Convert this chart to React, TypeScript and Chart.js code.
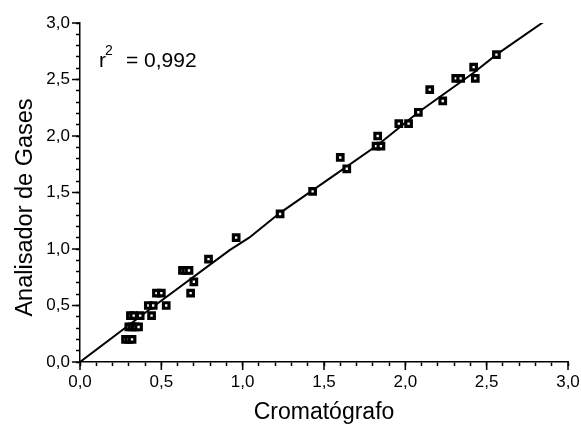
import React, { useEffect, useRef } from 'react';
import { Chart, registerables } from 'chart.js';

Chart.register(...registerables);

// Measured points (Cromatógrafo vs Analisador de Gases)
const POINT_X = [
  0.28, 0.30, 0.32,
  0.30, 0.32, 0.34, 0.36,
  0.31, 0.33, 0.37, 0.44,
  0.42, 0.45, 0.53,
  0.47, 0.50,
  0.63, 0.65, 0.67,
  0.70, 0.68, 0.79, 0.96,
  1.23, 1.43, 1.60, 1.64,
  1.83, 1.82, 1.85, 1.96, 2.02, 2.08,
  2.15, 2.23, 2.31, 2.34, 2.42, 2.43, 2.56,
];
const POINT_Y = [
  0.20, 0.20, 0.20,
  0.31, 0.31, 0.31, 0.31,
  0.41, 0.41, 0.41, 0.41,
  0.50, 0.50, 0.50,
  0.61, 0.61,
  0.81, 0.81, 0.81,
  0.71, 0.61, 0.91, 1.10,
  1.31, 1.51, 1.81, 1.71,
  2.00, 1.91, 1.91, 2.11, 2.11, 2.21,
  2.41, 2.31, 2.51, 2.51, 2.61, 2.51, 2.72,
];

// Fitted curve
const FIT_X = [0, 0.46, 0.92, 1.04, 1.23, 1.54, 1.83, 2.08, 2.42, 2.56, 2.86];
const FIT_Y = [0, 0.50, 0.99, 1.10, 1.32, 1.63, 1.92, 2.21, 2.56, 2.72, 3.02];

const AXIS_MIN = 0;
const AXIS_MAX = 3;
const MINOR_STEP = 0.1;
const MAJOR_TICKS = [0, 0.5, 1.0, 1.5, 2.0, 2.5, 3.0];
const X_TITLE = 'Cromatógrafo';
const Y_TITLE = 'Analisador de Gases';
const R2_VALUE = '0,992';

const FONT = '"Liberation Sans", Arial, sans-serif';

const fmt = (v: number | string) => {
  const n = Number(v);
  return Math.abs(n * 2 - Math.round(n * 2)) < 1e-6 ? n.toFixed(1).replace('.', ',') : '';
};

const decorPlugin = {
  id: 'decor',
  afterDraw(chart: any) {
    const { ctx, chartArea, scales } = chart;
    const xs = scales.x;
    const ys = scales.y;
    ctx.save();
    ctx.strokeStyle = '#000';
    ctx.lineWidth = 1.5;
    ctx.beginPath();
    for (const v of MAJOR_TICKS) {
      const px = xs.getPixelForValue(v);
      ctx.moveTo(px, chartArea.bottom);
      ctx.lineTo(px, chartArea.bottom + 8);
      const py = ys.getPixelForValue(v);
      ctx.moveTo(chartArea.left, py);
      ctx.lineTo(chartArea.left - 8, py);
    }
    ctx.stroke();

    ctx.fillStyle = '#000';
    ctx.font = `23px ${FONT}`;
    ctx.textAlign = 'center';
    ctx.textBaseline = 'alphabetic';
    ctx.fillText(X_TITLE, (chartArea.left + chartArea.right) / 2, chartArea.bottom + 57);

    ctx.save();
    ctx.font = `23.5px ${FONT}`;
    ctx.translate(chartArea.left - 48, (chartArea.top + chartArea.bottom) / 2 + 15);
    ctx.rotate(-Math.PI / 2);
    ctx.textBaseline = 'alphabetic';
    ctx.fillText(Y_TITLE, 0, 0);
    ctx.restore();

    // r² annotation
    ctx.textAlign = 'left';
    ctx.textBaseline = 'alphabetic';
    const bx = chartArea.left + 19;
    const by = chartArea.top + 44;
    ctx.font = `21px ${FONT}`;
    ctx.fillText('r', bx, by);
    ctx.font = `14px ${FONT}`;
    ctx.fillText('2', bx + 6, by - 12);
    ctx.font = `21px ${FONT}`;
    ctx.fillText('= ' + R2_VALUE, bx + 27, by);
    ctx.restore();
  },
};

export default function App() {
  const ref = useRef<HTMLCanvasElement>(null);

  useEffect(() => {
    if (!ref.current) return;
    const points = POINT_X.map((x, i) => ({ x, y: POINT_Y[i] }));
    const fit = FIT_X.map((x, i) => ({ x, y: FIT_Y[i] }));
    const axisCommon = () => ({
      type: 'linear' as const,
      min: AXIS_MIN,
      max: AXIS_MAX,
      ticks: {
        stepSize: MINOR_STEP,
        autoSkip: false,
        maxRotation: 0,
        color: '#000',
        font: { family: FONT, size: 17 },
        padding: 6,
        callback: (v: any) => fmt(v),
      },
      grid: {
        drawOnChartArea: false,
        tickLength: 4,
        tickColor: '#000',
        tickWidth: 1.5,
      },
      border: { display: true, color: '#000', width: 1.5 },
    });
    const chart = new Chart(ref.current, {
      type: 'scatter',
      data: {
        datasets: [
          {
            label: 'dados',
            data: points,
            showLine: false,
            pointStyle: 'rect',
            pointRadius: 3.9,
            pointBorderWidth: 3.2,
            borderColor: '#000',
            backgroundColor: '#fff',
          },
          {
            label: 'ajuste',
            data: fit,
            showLine: true,
            pointRadius: 0,
            borderColor: '#000',
            borderWidth: 2,
            fill: false,
            tension: 0,
          },
        ],
      },
      options: {
        animation: false,
        responsive: false,
        devicePixelRatio: 1,
        layout: { padding: { left: 0, right: 13, top: 23, bottom: 0 } },
        plugins: { legend: { display: false }, tooltip: { enabled: false } },
        scales: {
          x: {
            ...axisCommon(),
            position: 'bottom',
            afterFit: (s: any) => { s.height = 63; s.paddingLeft = 0; s.paddingRight = 0; },
          },
          y: {
            ...axisCommon(),
            position: 'left',
            afterFit: (s: any) => { s.width = 80; s.paddingTop = 0; s.paddingBottom = 0; },
          },
        },
      },
      plugins: [decorPlugin],
    });
    return () => chart.destroy();
  }, []);

  return (
    <div style={{ position: 'absolute', left: 0, top: 0, width: 581, height: 425, background: '#fff' }}>
      <canvas ref={ref} width={581} height={425} />
    </div>
  );
}
